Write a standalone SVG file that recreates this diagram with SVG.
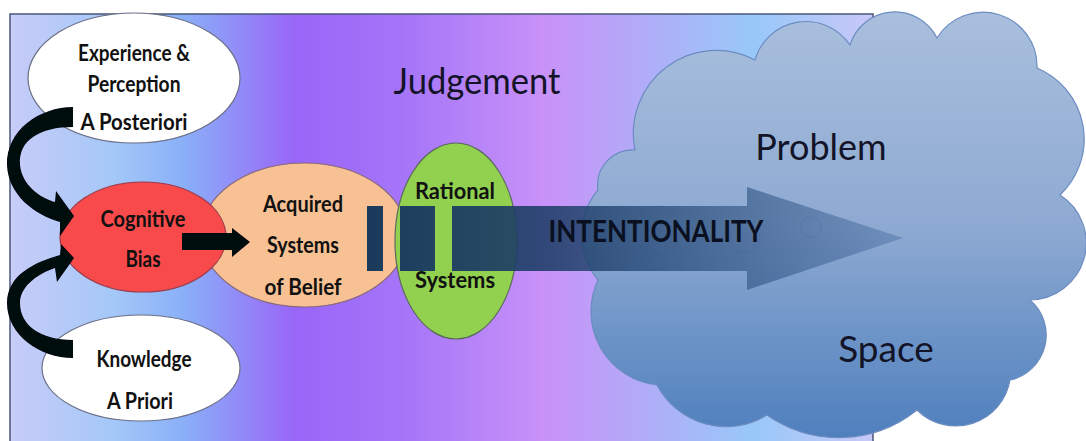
<svg xmlns="http://www.w3.org/2000/svg" width="1086" height="441" viewBox="0 0 1086 441">
<defs>
<style>
.t{font-family:Lato,"Open Sans","Liberation Sans",sans-serif;font-weight:bold;font-size:22px;fill:#111;text-anchor:middle}
.big{font-family:Lato,"Open Sans","Liberation Sans",sans-serif;font-weight:normal;fill:#141428;text-anchor:middle}
.wh{fill:#ffffff;stroke:#6b6f86;stroke-width:1.2}
.blk{fill:#05070f;filter:url(#soft)}
</style>
<linearGradient id="bg" x1="10" y1="0" x2="873" y2="0" gradientUnits="userSpaceOnUse">
<stop offset="0" stop-color="#c8ccf8"/>
<stop offset="0.12" stop-color="#a4c8f8"/>
<stop offset="0.2" stop-color="#8ab0f8"/>
<stop offset="0.33" stop-color="#9966f8"/>
<stop offset="0.45" stop-color="#a474f8"/>
<stop offset="0.62" stop-color="#c892f8"/>
<stop offset="0.86" stop-color="#98c8f8"/>
<stop offset="1" stop-color="#c8c8f8"/>
</linearGradient>
<linearGradient id="cloudg" x1="0" y1="10" x2="0" y2="440" gradientUnits="userSpaceOnUse">
<stop offset="0" stop-color="#a9bfdd"/>
<stop offset="0.5" stop-color="#8eaad2"/>
<stop offset="1" stop-color="#4e7fbd"/>
</linearGradient>
<linearGradient id="arrowg" x1="367" y1="0" x2="903" y2="0" gradientUnits="userSpaceOnUse">
<stop offset="0" stop-color="#1a3a5c" stop-opacity="1"/>
<stop offset="0.35" stop-color="#1e3f68" stop-opacity="0.88"/>
<stop offset="1" stop-color="#2c5288" stop-opacity="0.3"/>
</linearGradient>
<filter id="soft" x="-10%" y="-10%" width="120%" height="120%">
<feGaussianBlur stdDeviation="0.7"/>
</filter>
</defs>

<g id="background">
<rect x="10" y="14" width="863" height="440" fill="url(#bg)" stroke="#4a5878" stroke-width="1.5"/>
</g>

<g id="cloud">
<path d="M 635 150 A 83 83 0 0 1 755 60 A 53 53 0 0 1 850 45 A 47 47 0 0 1 937 38 A 54 54 0 0 1 1037 68 A 77 77 0 0 1 1060 195 A 57 57 0 0 1 1030 300 A 46 46 0 0 1 1010 380 A 55 55 0 0 1 917 410 A 125 125 0 0 1 767 415 A 78 78 0 0 1 657 385 A 74 74 0 0 1 598 280 A 70 70 0 0 1 598 190 A 35 35 0 0 1 635 150 Z" fill="url(#cloudg)" stroke="#6c8cc0" stroke-width="1.2"/>
<g fill="none" stroke="#6a88b8" stroke-opacity="0.45" stroke-width="1">
<circle cx="657" cy="230" r="24"/>
<circle cx="745" cy="238" r="15"/>
<circle cx="811" cy="227" r="10"/>
</g>
<text class="big" x="821" y="160" font-size="36">Problem</text>
<text class="big" x="886" y="362" font-size="37">Space</text>
</g>

<g id="judgement">
<text class="big" x="477" y="94" font-size="37" fill="#1a1030" textLength="167" lengthAdjust="spacingAndGlyphs">Judgement</text>
</g>

<g id="experience">
<ellipse class="wh" cx="134" cy="78" rx="106" ry="65"/>
<text class="t" x="134" y="61" textLength="112" lengthAdjust="spacingAndGlyphs">Experience &amp;</text>
<text class="t" x="134" y="92" textLength="93" lengthAdjust="spacingAndGlyphs">Perception</text>
<text class="t" x="134" y="130" textLength="107" lengthAdjust="spacingAndGlyphs">A  Posteriori</text>
</g>

<g id="knowledge">
<ellipse class="wh" cx="141" cy="368" rx="99" ry="53"/>
<text class="t" x="144" y="367" textLength="95" lengthAdjust="spacingAndGlyphs">Knowledge</text>
<text class="t" x="140" y="409" textLength="66" lengthAdjust="spacingAndGlyphs">A  Priori</text>
</g>

<g id="acquired">
<ellipse cx="304" cy="235" rx="103" ry="72" fill="#f8c194" stroke="#8a6a78" stroke-width="1.2"/>
<text class="t" x="303" y="212" textLength="80" lengthAdjust="spacingAndGlyphs">Acquired</text>
<text class="t" x="303" y="253" textLength="72" lengthAdjust="spacingAndGlyphs">Systems</text>
<text class="t" x="303" y="295" textLength="77" lengthAdjust="spacingAndGlyphs">of Belief</text>
</g>

<g id="cognitive">
<ellipse cx="143" cy="237" rx="83" ry="55" fill="#f84a4a" stroke="#9a3a4a" stroke-width="1.2"/>
<text class="t" x="143" y="227" fill="#3a0606" textLength="85" lengthAdjust="spacingAndGlyphs">Cognitive</text>
<text class="t" x="143" y="267" fill="#3a0606" textLength="35" lengthAdjust="spacingAndGlyphs">Bias</text>
</g>

<g id="rational">
<ellipse cx="456" cy="241" rx="61" ry="98" fill="#92d050" stroke="#5a6a5a" stroke-width="1.2"/>
<text class="t" x="455" y="199" fill="#0d1a05" textLength="80" lengthAdjust="spacingAndGlyphs">Rational</text>
<text class="t" x="455" y="288" fill="#0d1a05" textLength="80" lengthAdjust="spacingAndGlyphs">Systems</text>
</g>

<g id="connectors">
<path class="blk" d="M 73 107 L 73 127 C 40 127 18 140 20 165 C 22 185 40 198 55 202 L 56 191 L 74 216 L 60 236 L 60 222 C 35 215 8 195 7 165 C 6 130 40 107 73 107 Z"/>
<path class="blk" d="M 73 358 L 73 340 C 40 340 20 325 20 303 C 20 285 40 273 55 268 L 57 282 L 74 258 L 61 244 L 60 255 C 35 262 7 275 7 303 C 7 335 40 358 73 358 Z"/>
<path class="blk" d="M 182 233 L 232 233 L 232 228 L 250 242 L 232 257 L 232 250 L 182 250 Z"/>
<g id="intentionality">
<path d="M 367 206 L 383 206 L 383 271 L 367 271 Z M 400 206 L 435 206 L 435 271 L 400 271 Z M 452 206 L 747 206 L 747 187 L 903 238 L 747 290 L 747 271 L 452 271 Z" fill="url(#arrowg)"/>
<text x="656" y="242" font-family="Lato,'Open Sans','Liberation Sans',sans-serif" font-weight="bold" font-size="31" fill="#0a1020" text-anchor="middle" textLength="215" lengthAdjust="spacingAndGlyphs">INTENTIONALITY</text>
</g>
</g>
</svg>
